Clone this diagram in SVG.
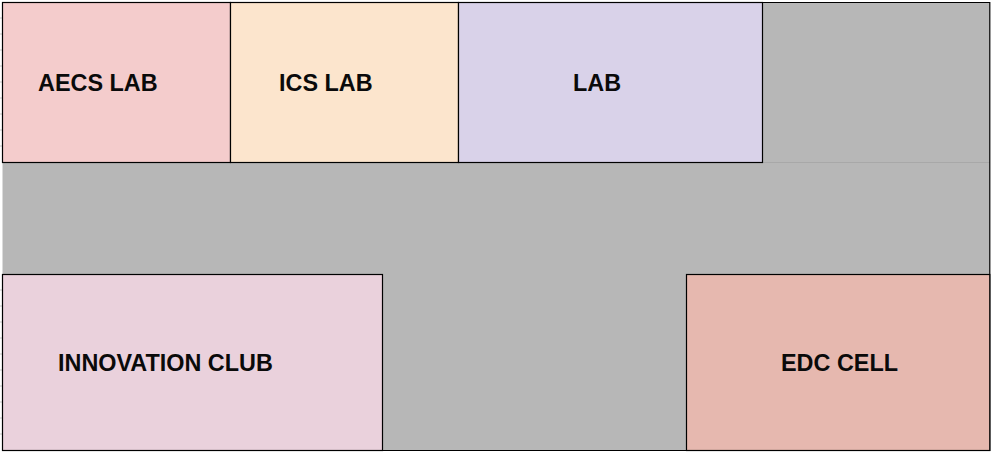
<svg xmlns="http://www.w3.org/2000/svg" width="991" height="453" viewBox="0 0 991 453">
  <style>
    .cell { stroke: #000; stroke-width: 1.2; }
    .label { font-family: "Liberation Sans", Arial, sans-serif; font-weight: bold; font-size: 23.4px; fill: #0a0a0a; }
    .grid { stroke: #c8c8c8; stroke-width: 1; }
  </style>
  <!-- sheet background -->
  <rect x="0" y="0" width="991" height="453" fill="#ffffff"/>
  <!-- grey floor area -->
  <rect x="2.5" y="2.5" width="987.5" height="448" fill="#b7b7b7"/>
  <!-- left margin grid ticks -->
  <g class="grid">
    <line x1="0" y1="18" x2="2" y2="18"/><line x1="0" y1="34" x2="2" y2="34"/>
    <line x1="0" y1="50" x2="2" y2="50"/><line x1="0" y1="66" x2="2" y2="66"/>
    <line x1="0" y1="82" x2="2" y2="82"/><line x1="0" y1="98" x2="2" y2="98"/>
    <line x1="0" y1="114" x2="2" y2="114"/><line x1="0" y1="130" x2="2" y2="130"/>
    <line x1="0" y1="146" x2="2" y2="146"/><line x1="0" y1="290" x2="2" y2="290"/>
    <line x1="0" y1="306" x2="2" y2="306"/><line x1="0" y1="322" x2="2" y2="322"/>
    <line x1="0" y1="338" x2="2" y2="338"/><line x1="0" y1="354" x2="2" y2="354"/>
    <line x1="0" y1="370" x2="2" y2="370"/><line x1="0" y1="386" x2="2" y2="386"/>
    <line x1="0" y1="402" x2="2" y2="402"/><line x1="0" y1="418" x2="2" y2="418"/>
    <line x1="0" y1="434" x2="2" y2="434"/>
  </g>
  <!-- corridor outline -->
  <g id="connectors">
    <line x1="762" y1="162.5" x2="990" y2="162.5" stroke="#a8a8a8" stroke-width="1"/>
    <line x1="2" y1="2.5" x2="990" y2="2.5" stroke="#000" stroke-width="1.2"/>
    <line x1="989.8" y1="2" x2="989.8" y2="451" stroke="#000" stroke-width="1.2"/>
    <line x1="2" y1="450.5" x2="990" y2="450.5" stroke="#000" stroke-width="1.2"/>
  </g>
  <g id="aecs-lab">
    <rect class="cell" x="2.5" y="2.5" width="228" height="160" fill="#f4cccc"/>
    <text class="label" x="38" y="91">AECS LAB</text>
  </g>
  <g id="ics-lab">
    <rect class="cell" x="230.5" y="2.5" width="228" height="160" fill="#fce5cd"/>
    <text class="label" x="279" y="91">ICS LAB</text>
  </g>
  <g id="lab">
    <rect class="cell" x="458.5" y="2.5" width="304" height="160" fill="#d9d2e9"/>
    <text class="label" x="573" y="91">LAB</text>
  </g>
  <g id="innovation-club">
    <rect class="cell" x="2.5" y="274.5" width="380" height="176" fill="#ead1dc"/>
    <text class="label" x="58" y="371">INNOVATION CLUB</text>
  </g>
  <g id="edc-cell">
    <rect class="cell" x="686.5" y="274.5" width="303.3" height="176" fill="#e6b8af"/>
    <text class="label" x="781" y="371">EDC CELL</text>
  </g>
</svg>
